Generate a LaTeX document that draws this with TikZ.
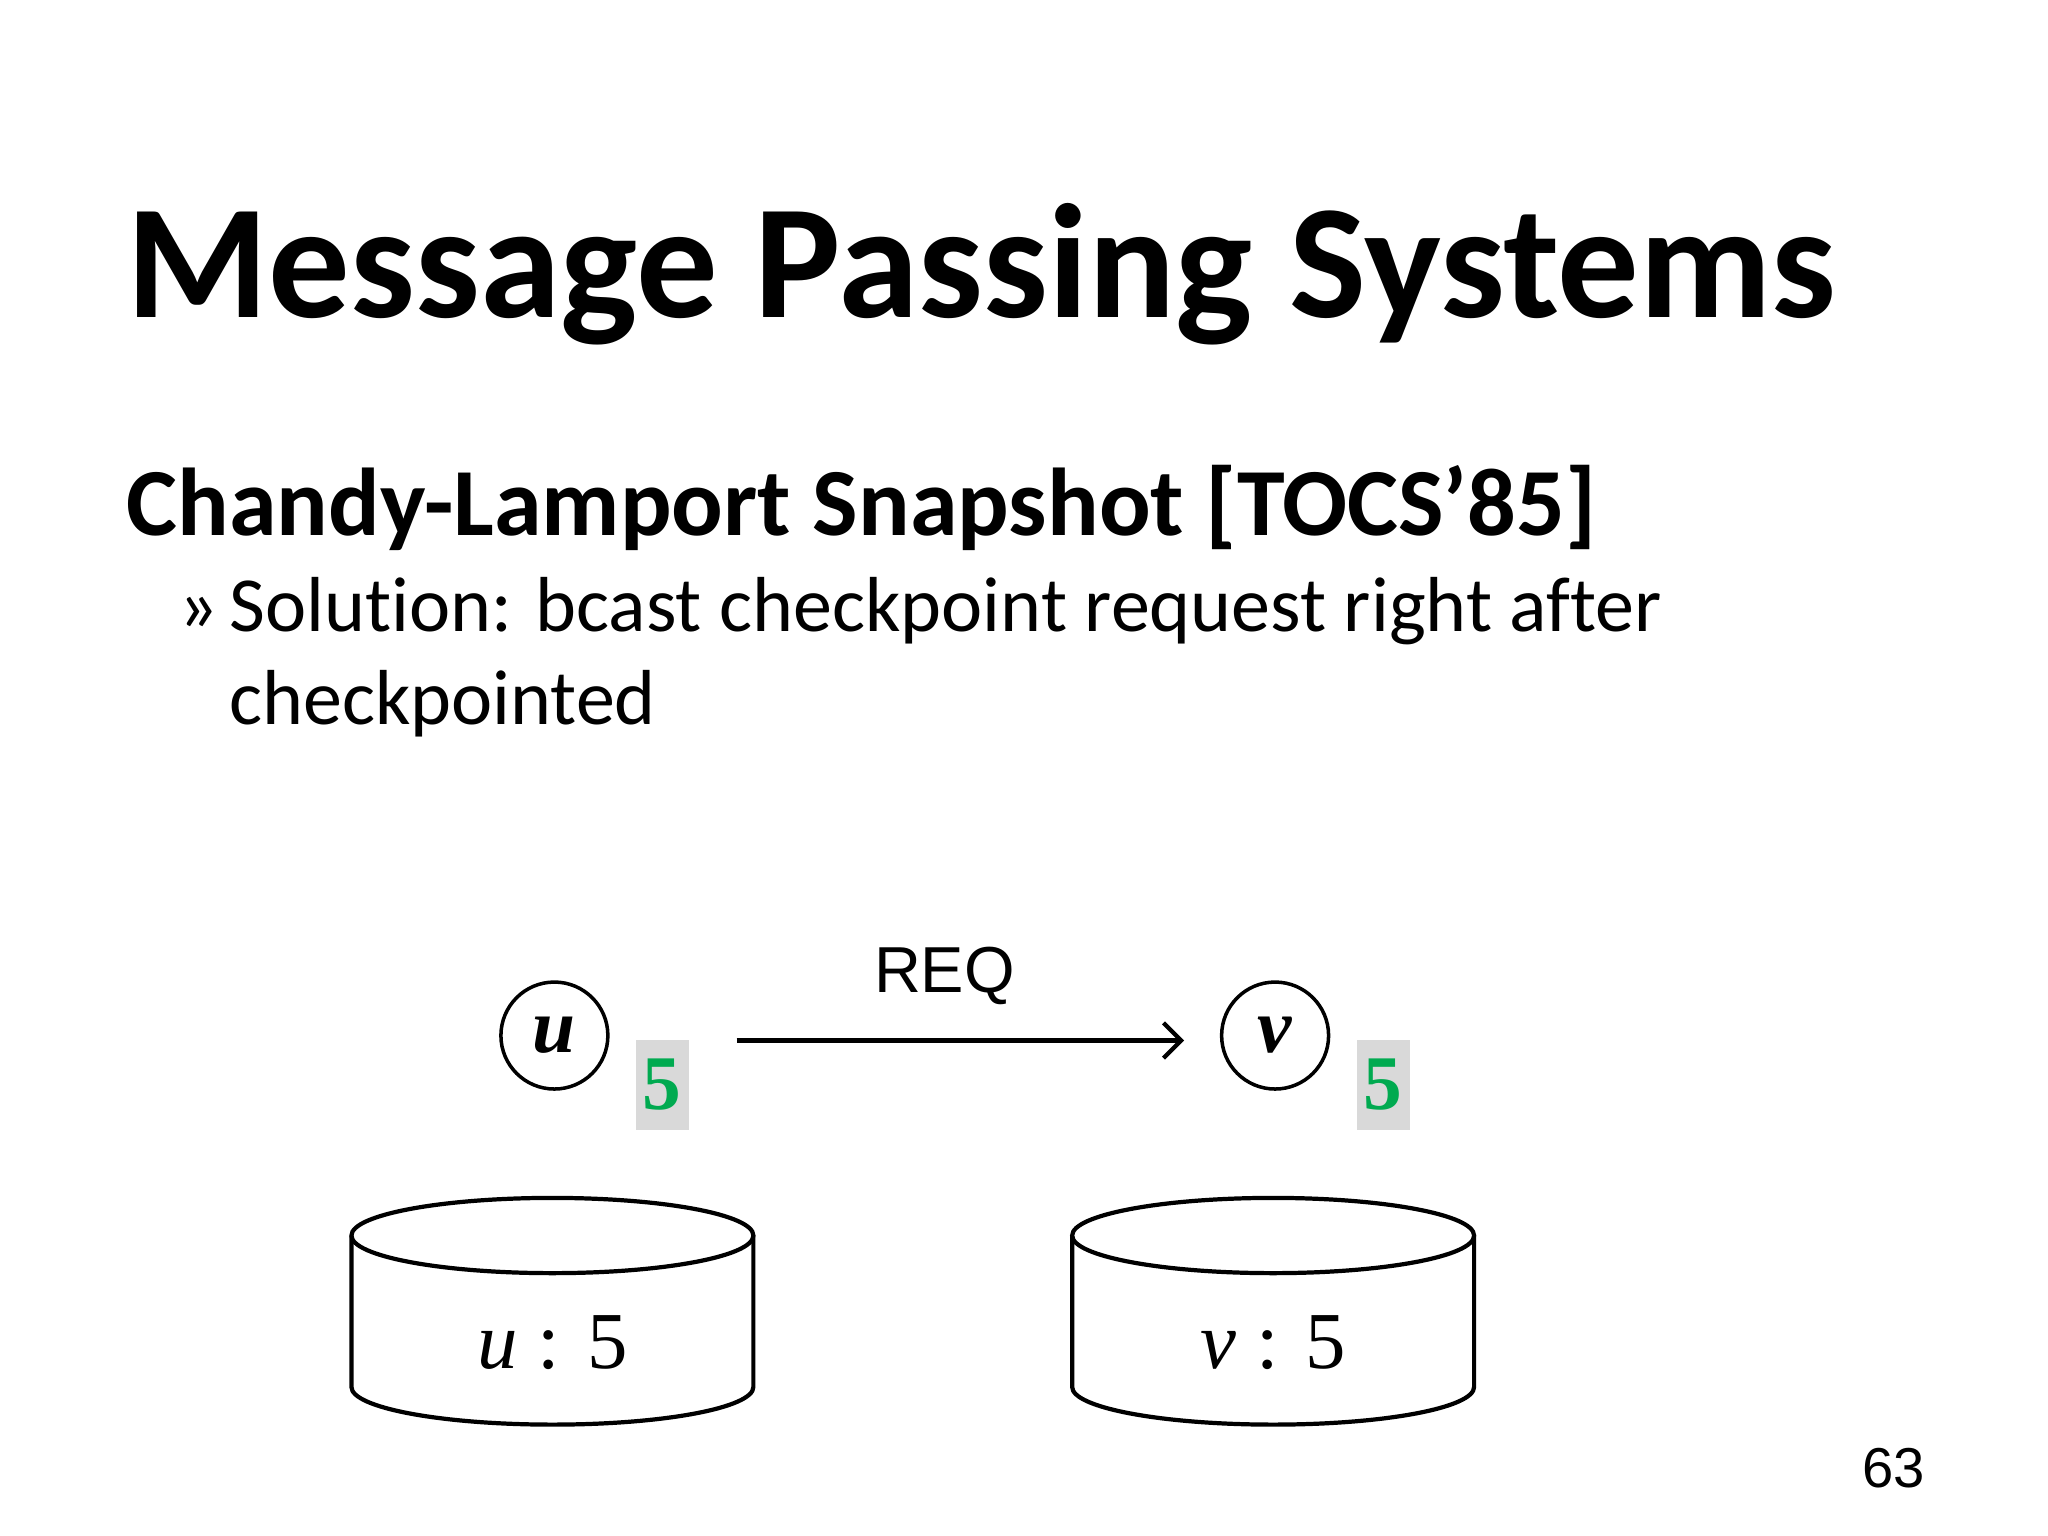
\documentclass[tikz,border=0pt]{standalone}
\usepackage{fontspec}
\usetikzlibrary{arrows.meta}
\setmainfont[Ligatures={NoCommon}]{Carlito}
\newfontfamily\arialf{Liberation Sans}
\newfontfamily\timesf{Liberation Serif}
\definecolor{numgreen}{RGB}{0,170,80}
\definecolor{boxgray}{RGB}{217,217,217}
\begin{document}
\begin{tikzpicture}[x=0.0099cm,y=-0.0099cm,
  proc/.style={draw,circle,line width=1pt,minimum size=1.07cm,inner sep=0pt,font=\timesf\bfseries\itshape\fontsize{22}{22}\selectfont},
  numbox/.style={fill=boxgray,minimum width=0.53cm,minimum height=0.9cm,inner sep=0pt,text=numgreen,font=\timesf\bfseries\fontsize{22}{22}\selectfont},
  cyl/.style={line width=1.2pt}]
\useasboundingbox (0,0) rectangle (2068.7,1551.5);
\node[anchor=base west,inner sep=0pt,font=\bfseries\fontsize{46.3}{46.3}\selectfont] (title) at (127,321) {Message Passing Systems};
\node[anchor=base west,inner sep=0pt,font=\bfseries\fontsize{27.4}{27.4}\selectfont] (sub) at (127,541) {Chandy-Lamport Snapshot [TOCS’85]};
\node[anchor=base west,inner sep=0pt,font=\fontsize{22.2}{22.2}\selectfont] (bul) at (180,638) {»};
\node[anchor=base west,inner sep=0pt,font=\fontsize{22.2}{22.2}\selectfont] (l1) at (231,638) {Solution: bcast checkpoint request right after};
\node[anchor=base west,inner sep=0pt,font=\fontsize{22.2}{22.2}\selectfont] (l2) at (231,732) {checkpointed};
\node[proc] (u) at (560,1046) {u};
\node[proc] (v) at (1288,1046) {v};
\node[numbox] (bu) at (669,1096) {5};
\node[numbox] (bv) at (1397,1096) {5};
\coordinate (a1) at (744,1051);
\coordinate (a2) at (1196,1051);
\draw[line width=1.2pt,-{Straight Barb[length=5pt]}] (a1) -- (a2);
\node[font=\arialf\fontsize{18.5}{18.5}\selectfont] (req) at (954,986) {REQ};
\foreach \x/\n in {355/u,1083/v}{
  \draw[cyl] (\x,1248) -- (\x,1401) arc[start angle=180,end angle=0,x radius=203,y radius=38] -- (\x+406,1248);
  \draw[cyl] (\x+203,1248) ellipse[x radius=203,y radius=38];
  \node[font=\timesf\fontsize{23}{23}\selectfont] at (\x+203,1356) {{\itshape\n} : 5};
}
\node[font=\arialf\fontsize{16}{16}\selectfont] (pg) at (1913,1483) {63};
\end{tikzpicture}
\end{document}
